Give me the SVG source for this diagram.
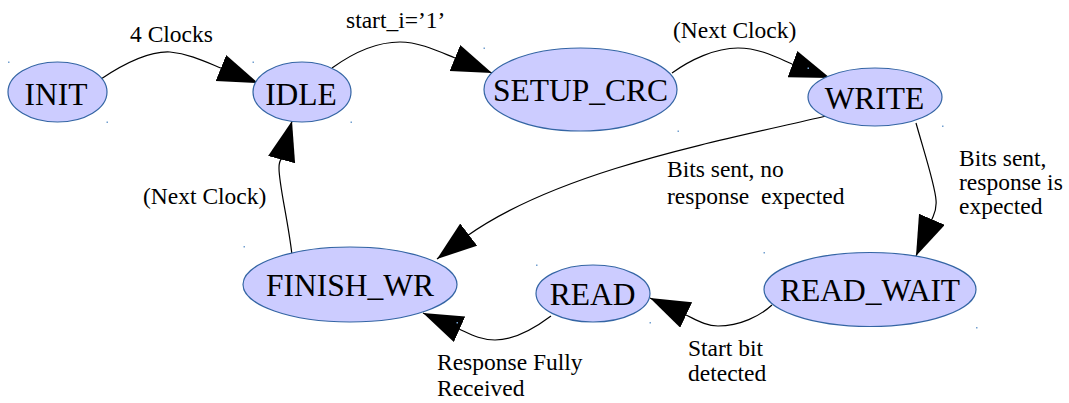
<svg xmlns="http://www.w3.org/2000/svg" width="1069" height="403" viewBox="0 0 1069 403">
  <style>
    .state { fill: #ccccff; stroke: #3465a4; stroke-width: 1.2; }
    .name { font-family: 'Liberation Serif', serif; font-size: 31.5px; fill: #000; text-anchor: middle; }
    .lbl { font-family: 'Liberation Serif', serif; font-size: 23.5px; fill: #000; }
    .edge { fill: none; stroke: #000; stroke-width: 1.2; marker-end: url(#head); }
    .dot { fill: #729fcf; }
  </style>
  <defs>
    <marker id="head" markerUnits="userSpaceOnUse" markerWidth="42" markerHeight="30" refX="40" refY="14" orient="auto">
      <path d="M0,0 L40,14 L0,28 Z" fill="#000"/>
    </marker>
  </defs>
  <rect width="1069" height="403" fill="#fff"/>

  <!-- transitions -->
  <g id="connectors">
    <path class="edge" d="M101,79 C125,63 150,51 170,52 C190,54 206,62 222,68.5 L258,83"/>
    <path class="edge" d="M332,68 C350,55 375,42 400,42 C420,42 440,52 455,58 L492,73"/>
    <path class="edge" d="M672,73 C690,60 715,48 738,48 C760,48 778,58 792,64 L830,78"/>
    <path class="edge" d="M826,116 C720,141 560,170 467,236 L437,259"/>
    <path class="edge" d="M916,123 C925,155 935,185 936,200 C937,210 934,214 932,219 L916,256"/>
    <path class="edge" d="M772,305 C760,316 740,326 718,326 C705,326 695,319 684,314 L650,298"/>
    <path class="edge" d="M551,316 C535,328 515,340 495,340 C480,340 470,334 459,329 L423,313"/>
    <path class="edge" d="M292,255 C288,220 279,185 279,168 C279,163 280,160 282,158 L292,121"/>
  </g>

  <!-- transition labels -->
  <g id="labels">
    <text class="lbl" x="130" y="42">4 Clocks</text>
    <text class="lbl" x="346" y="28">start_i=’1’</text>
    <text class="lbl" x="673" y="38">(Next Clock)</text>
    <text class="lbl" x="143" y="204">(Next Clock)</text>
    <text class="lbl" x="667" y="177">Bits sent, no</text>
    <text class="lbl" x="667" y="204" xml:space="preserve">response  expected</text>
    <text class="lbl" x="959" y="166">Bits sent,</text>
    <text class="lbl" x="959" y="190">response is</text>
    <text class="lbl" x="959" y="214">expected</text>
    <text class="lbl" x="688" y="356">Start bit</text>
    <text class="lbl" x="688" y="381">detected</text>
    <text class="lbl" x="437" y="370">Response Fully</text>
    <text class="lbl" x="437" y="396">Received</text>
  </g>

  <!-- states -->
  <g id="INIT">
    <ellipse class="state" cx="57.5" cy="92" rx="49.5" ry="30"/>
    <text class="name" x="56" y="105">INIT</text>
    <rect class="dot" x="8" y="61.5" width="1.5" height="1.5"/>
    <rect class="dot" x="106.5" y="121.5" width="1.5" height="1.5"/>
  </g>
  <g id="IDLE">
    <ellipse class="state" cx="302" cy="92" rx="49" ry="30"/>
    <text class="name" x="301" y="105">IDLE</text>
    <rect class="dot" x="252.5" y="61.5" width="1.5" height="1.5"/>
    <rect class="dot" x="350.5" y="121.5" width="1.5" height="1.5"/>
  </g>
  <g id="SETUP_CRC">
    <ellipse class="state" cx="580.5" cy="89.5" rx="96.5" ry="41.5"/>
    <text class="name" x="580.5" y="101">SETUP_CRC</text>
    <rect class="dot" x="483.5" y="47.5" width="1.5" height="1.5"/>
    <rect class="dot" x="677.5" y="130.5" width="1.5" height="1.5"/>
  </g>
  <g id="WRITE">
    <ellipse class="state" cx="875" cy="97" rx="67" ry="29"/>
    <text class="name" x="874.5" y="109">WRITE</text>
    <rect class="dot" x="807.5" y="67.5" width="1.5" height="1.5"/>
    <rect class="dot" x="942" y="125.5" width="1.5" height="1.5"/>
  </g>
  <g id="FINISH_WR">
    <ellipse class="state" cx="350" cy="284.5" rx="107" ry="37.5"/>
    <text class="name" x="350" y="296">FINISH_WR</text>
    <rect class="dot" x="243.5" y="246" width="1.5" height="1.5"/>
    <rect class="dot" x="456.5" y="322" width="1.5" height="1.5"/>
  </g>
  <g id="READ">
    <ellipse class="state" cx="593" cy="293.5" rx="57" ry="28.5"/>
    <text class="name" x="592.5" y="305">READ</text>
    <rect class="dot" x="536" y="264.5" width="1.5" height="1.5"/>
    <rect class="dot" x="649.5" y="322" width="1.5" height="1.5"/>
  </g>
  <g id="READ_WAIT">
    <ellipse class="state" cx="870" cy="289.5" rx="106" ry="37"/>
    <text class="name" x="870" y="301">READ_WAIT</text>
    <rect class="dot" x="763.5" y="252" width="1.5" height="1.5"/>
    <rect class="dot" x="976" y="327" width="1.5" height="1.5"/>
  </g>
</svg>
